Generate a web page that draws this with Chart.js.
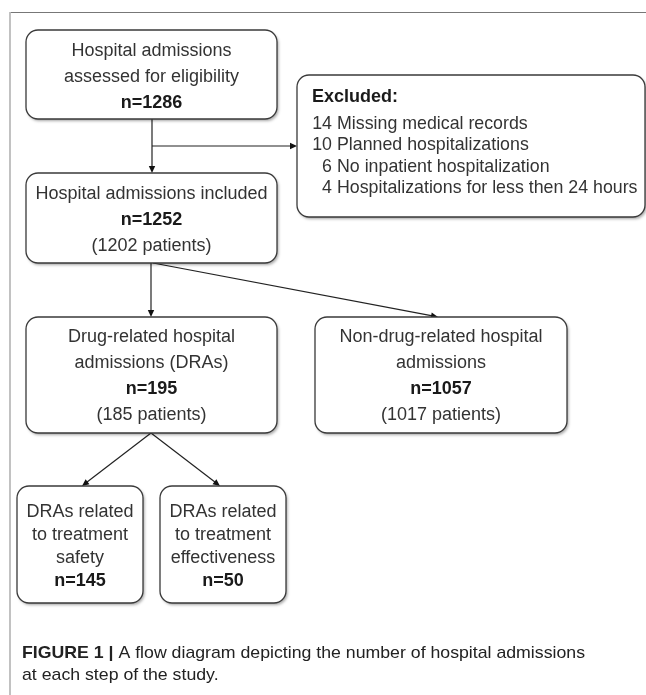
<!DOCTYPE html>
<html>
<head>
<meta charset="utf-8">
<script src="https://cdn.jsdelivr.net/npm/chart.js@4.4.1/dist/chart.umd.min.js"></script>
<style>
  html, body { margin: 0; padding: 0; background: #fff; }
  canvas { display: block; }
</style>
</head>
<body>
<canvas id="fluxo" width="646" height="695"></canvas>
<script>
// dados do fluxograma
const stepTitles = [
  ["Hospital admissions", "assessed for eligibility"],
  ["Hospital admissions included"],
  ["Drug-related hospital", "admissions (DRAs)"],
  ["Non-drug-related hospital", "admissions"],
  ["DRAs related", "to treatment", "safety"],
  ["DRAs related", "to treatment", "effectiveness"],
];
const admissionCounts = [1286, 1252, 195, 1057, 145, 50];
const patientCounts   = [null, 1202, 185, 1017, null, null];
const exclusionTitle   = "Excluded:";
const exclusionCounts  = [14, 10, 6, 4];
const exclusionReasons = [
  "Missing medical records",
  "Planned hospitalizations",
  "No inpatient hospitalization",
  "Hospitalizations for less then 24 hours",
];
const flowLinks = [[0, 1], [1, 2], [1, 3], [2, 4], [2, 5]];
const captionBold = "FIGURE 1 |";
const captionText = ["A flow diagram depicting the number of hospital admissions", "at each step of the study."];

// posicoes (unidades dos eixos)
const caixas = [
  { x0: 26,  y0: 30,  x1: 277, y1: 119, base: 56,  gap: 26 },
  { x0: 26,  y0: 173, x1: 277, y1: 263, base: 199, gap: 26 },
  { x0: 26,  y0: 317, x1: 277, y1: 433, base: 342, gap: 26 },
  { x0: 315, y0: 317, x1: 567, y1: 433, base: 342, gap: 26 },
  { x0: 17,  y0: 486, x1: 143, y1: 603, base: 517, gap: 23 },
  { x0: 160, y0: 486, x1: 286, y1: 603, base: 517, gap: 23 },
];
const ligacoes = [
  { de: [152, 119], para: [152, 173] },
  { de: [151, 263], para: [151, 317] },
  { de: [153, 263], para: [438, 317] },
  { de: [151, 433], para: [82, 486] },
  { de: [151, 433], para: [220, 486] },
];
const caixaExcluidos = { x0: 297, y0: 75, x1: 645, y1: 217, base: 102, gap: 21.6, numX: 332, txtX: 337, tituloX: 312 };
const ligacaoExcluidos = { de: [152, 146], para: [297, 146] };

const FONTE = '"Liberation Sans", Arial, sans-serif';

function linhasDaCaixa(i) {
  const out = stepTitles[i].map(t => ({ t, bold: false }));
  out.push({ t: `n=${admissionCounts[i]}`, bold: true });
  if (patientCounts[i] != null) out.push({ t: `(${patientCounts[i]} patients)`, bold: false });
  return out;
}

function caminhoArredondado(ctx, x0, y0, x1, y1, r) {
  ctx.beginPath();
  ctx.moveTo(x0 + r, y0);
  ctx.lineTo(x1 - r, y0);
  ctx.arcTo(x1, y0, x1, y0 + r, r);
  ctx.lineTo(x1, y1 - r);
  ctx.arcTo(x1, y1, x1 - r, y1, r);
  ctx.lineTo(x0 + r, y1);
  ctx.arcTo(x0, y1, x0, y1 - r, r);
  ctx.lineTo(x0, y0 + r);
  ctx.arcTo(x0, y0, x0 + r, y0, r);
  ctx.closePath();
}

function seta(ctx, ax, ay, bx, by) {
  ctx.strokeStyle = "#222";
  ctx.lineWidth = 1.2;
  const ang = Math.atan2(by - ay, bx - ax);
  const L = 7, W = 3.2;
  ctx.beginPath();
  ctx.moveTo(ax, ay);
  ctx.lineTo(bx - Math.cos(ang) * L * 0.8, by - Math.sin(ang) * L * 0.8);
  ctx.stroke();
  ctx.fillStyle = "#111";
  ctx.beginPath();
  ctx.moveTo(bx, by);
  ctx.lineTo(bx - Math.cos(ang) * L - Math.sin(ang) * W, by - Math.sin(ang) * L + Math.cos(ang) * W);
  ctx.lineTo(bx - Math.cos(ang) * L + Math.sin(ang) * W, by - Math.sin(ang) * L - Math.cos(ang) * W);
  ctx.closePath();
  ctx.fill();
}

function desenharCaixa(ctx, px, py, c) {
  const x0 = px(c.x0), x1 = px(c.x1), y0 = py(c.y0), y1 = py(c.y1);
  ctx.save();
  ctx.shadowColor = "rgba(0,0,0,0.35)";
  ctx.shadowBlur = 3;
  ctx.shadowOffsetX = 1.5;
  ctx.shadowOffsetY = 2;
  caminhoArredondado(ctx, x0, y0, x1, y1, 12);
  ctx.fillStyle = "#fff";
  ctx.fill();
  ctx.restore();
  caminhoArredondado(ctx, x0, y0, x1, y1, 12);
  ctx.strokeStyle = "#3a3a3a";
  ctx.lineWidth = 1.3;
  ctx.stroke();
}

const pluginFluxo = {
  id: "fluxo",
  afterDatasetsDraw(chart) {
    const { ctx, scales: { x, y } } = chart;
    const px = v => x.getPixelForValue(v), py = v => y.getPixelForValue(v);
    ctx.save();

    // moldura da figura
    ctx.strokeStyle = "#777";
    ctx.lineWidth = 1.2;
    ctx.beginPath(); ctx.moveTo(px(10), py(12.5)); ctx.lineTo(px(646), py(12.5)); ctx.stroke();
    ctx.strokeStyle = "#bbb";
    ctx.lineWidth = 1.8;
    ctx.beginPath(); ctx.moveTo(px(10), py(12)); ctx.lineTo(px(10), py(695)); ctx.stroke();

    // setas
    ligacoes.forEach(l => seta(ctx, px(l.de[0]), py(l.de[1]), px(l.para[0]), py(l.para[1])));
    seta(ctx, px(ligacaoExcluidos.de[0]), py(ligacaoExcluidos.de[1]), px(ligacaoExcluidos.para[0]), py(ligacaoExcluidos.para[1]));

    // caixas principais
    caixas.forEach((c, i) => {
      desenharCaixa(ctx, px, py, c);
      const cx = px((c.x0 + c.x1) / 2);
      ctx.textAlign = "center";
      ctx.textBaseline = "alphabetic";
      linhasDaCaixa(i).forEach((ln, k) => {
        ctx.font = `${ln.bold ? "bold " : ""}18px ${FONTE}`;
        ctx.fillStyle = ln.bold ? "#1a1a1a" : "#333";
        ctx.fillText(ln.t, cx, py(c.base + k * c.gap));
      });
    });

    // caixa dos excluidos
    const e = caixaExcluidos;
    desenharCaixa(ctx, px, py, e);
    ctx.textBaseline = "alphabetic";
    ctx.textAlign = "left";
    ctx.font = `bold 18px ${FONTE}`;
    ctx.fillStyle = "#1a1a1a";
    ctx.fillText(exclusionTitle, px(e.tituloX), py(e.base));
    ctx.font = `17.8px ${FONTE}`;
    ctx.fillStyle = "#333";
    exclusionCounts.forEach((n, k) => {
      const yy = py(e.base + (k + 1) * e.gap + 5);
      ctx.textAlign = "right";
      ctx.fillText(String(n), px(e.numX), yy);
      ctx.textAlign = "left";
      ctx.fillText(exclusionReasons[k], px(e.txtX), yy);
    });

    // legenda da figura
    const capFonte = '"Liberation Sans", Arial, sans-serif';
    ctx.textAlign = "left";
    ctx.fillStyle = "#222";
    ctx.font = `bold 17px ${capFonte}`;
    const wB = ctx.measureText(captionBold + " ").width;
    ctx.font = `17px ${capFonte}`;
    const wT = ctx.measureText(captionText[0]).width;
    const sx = (px(585) - px(22)) / (wB + wT);
    ctx.save();
    ctx.translate(px(22), py(658));
    ctx.scale(sx, 1);
    ctx.font = `bold 17px ${capFonte}`;
    ctx.fillText(captionBold, 0, 0);
    ctx.font = `17px ${capFonte}`;
    ctx.fillText(captionText[0], wB, 0);
    ctx.restore();
    ctx.save();
    ctx.translate(px(22), py(680));
    ctx.scale(sx, 1);
    ctx.font = `17px ${capFonte}`;
    ctx.fillText(captionText[1], 0, 0);
    ctx.restore();

    ctx.restore();
  }
};

new Chart(document.getElementById("fluxo"), {
  type: "scatter",
  data: {
    datasets: [{
      label: "etapas",
      data: caixas.map(c => ({ x: (c.x0 + c.x1) / 2, y: (c.y0 + c.y1) / 2 })),
      pointRadius: 0,
      pointHoverRadius: 0,
    }],
  },
  options: {
    responsive: false,
    animation: false,
    events: [],
    layout: { padding: 0 },
    plugins: { legend: { display: false }, tooltip: { enabled: false } },
    scales: {
      x: { type: "linear", min: 0, max: 646, display: false },
      y: { type: "linear", min: 0, max: 695, reverse: true, display: false },
    },
  },
  plugins: [pluginFluxo],
});
</script>
</body>
</html>
